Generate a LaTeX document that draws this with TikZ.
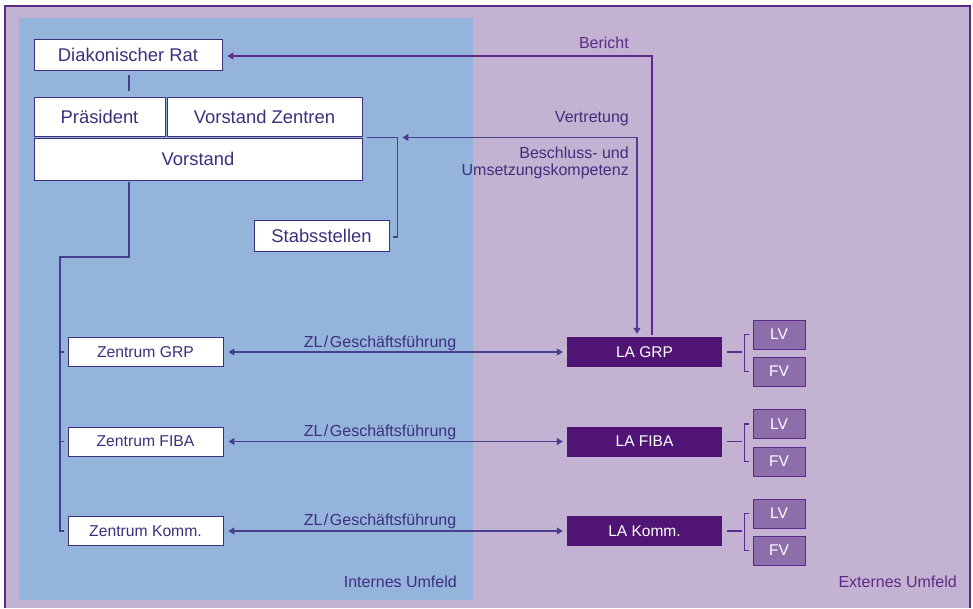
\documentclass[tikz,border=0pt]{standalone}
\usepackage{fontspec}
\setmainfont{Liberation Sans}
\usetikzlibrary{arrows.meta,calc}
\definecolor{lav}{HTML}{C4B2D2}
\definecolor{bluebg}{HTML}{95B4DC}
\definecolor{frame}{HTML}{5A2A86}
\definecolor{txt}{HTML}{3D2F7E}
\definecolor{lineblue}{HTML}{483F8E}
\definecolor{linepurp}{HTML}{5E2A8A}
\definecolor{lafill}{HTML}{501574}
\definecolor{lvfill}{HTML}{8D6DAA}
\definecolor{lvline}{HTML}{5C2A88}
\begin{document}
\begin{tikzpicture}[x=1pt,y=-1pt,
  bigbox/.style={draw=txt, fill=white, line width=0.9pt, text=txt, inner sep=0pt, font=\fontsize{18.4}{20}\selectfont},
  zbox/.style={draw=txt, fill=white, line width=0.9pt, text=txt, inner sep=0pt, minimum width=155pt, minimum height=29pt, font=\fontsize{15.7}{18}\selectfont},
  labox/.style={fill=lafill, draw=none, text=white, inner sep=0pt, minimum width=155pt, minimum height=30pt, font=\fontsize{15.5}{18}\selectfont},
  vbox/.style={fill=lvfill, draw=lvline, line width=0.9pt, text=white, inner sep=0pt, minimum width=52pt, minimum height=29pt, font=\fontsize{15.5}{18}\selectfont},
  conn/.style={draw=lineblue, line width=1.1pt},
  tip/.style={-{Triangle[length=6pt,width=7pt]}},
  tips/.style={{Triangle[length=6pt,width=7pt]}-{Triangle[length=6pt,width=7pt]}},
  lbl/.style={text=txt, inner sep=0pt, font=\fontsize{16}{17}\selectfont}
]
\useasboundingbox (0,0) rectangle (973,608);
% backgrounds
\fill[lav] (5,6) rectangle (970,608);
\fill[bluebg] (19,18) rectangle (473,600);
\draw[frame, line width=2pt] (5,608) -- (5,6) -- (970,6) -- (970,608);

% top boxes
\node[bigbox, minimum width=188pt, minimum height=31pt] (diak) at (128,54.5) {Diakonischer Rat};
\node[bigbox, minimum width=131pt, minimum height=39pt] (praes) at (99.5,116.5) {Präsident};
\node[bigbox, minimum width=195pt, minimum height=39pt] (vz) at (264.5,116.5) {Vorstand Zentren};
\node[bigbox, minimum width=328pt, minimum height=42pt] (vor) at (198,159) {Vorstand};
\node[bigbox, minimum width=135pt, minimum height=31pt] (stab) at (321.5,235.5) {Stabsstellen};

% centres
\node[zbox] (zgrp) at (145.5,352) {Zentrum GRP};
\node[zbox] (zfiba) at (145.5,441.5) {Zentrum FIBA};
\node[zbox] (zkomm) at (145.5,531) {Zentrum Komm.};

% LA boxes
\node[labox] (lagrp) at (644.5,352) {LA GRP};
\node[labox] (lafiba) at (644.5,441.5) {LA FIBA};
\node[labox] (lakomm) at (644.5,531) {LA Komm.};

% LV / FV
\node[vbox] (lv1) at (779,334.5) {LV};
\node[vbox] (fv1) at (779,371.5) {FV};
\node[vbox] (lv2) at (779,424) {LV};
\node[vbox] (fv2) at (779,461.5) {FV};
\node[vbox] (lv3) at (779,513.5) {LV};
\node[vbox] (fv3) at (779,550.5) {FV};

% Diakonischer Rat -- Vorstand
\draw[conn] ([xshift=1pt]diak.south) ++(0,5) -- ++(0,16);

% Vorstand -> Zentren tree
\coordinate (tr) at (60,257);
\draw[conn] ([xshift=-69pt]vor.south) ++(0,2) |- (tr) |- ([xshift=-4pt]zkomm.west);
\draw[conn] ([xshift=-8pt]zgrp.west) -- ++(4,0);
\draw[conn] ([xshift=-8pt]zfiba.west) -- ++(4,0);

% Stabsstellen bracket
\coordinate (bt) at ($(vz.south east)+(5,1)$);
\draw[conn] (bt) -- ++(30,0) |- ([xshift=4pt,yshift=-1.5pt]stab.east);

% Vertretung
\draw[conn, tips] ($(bt)+(35,0)$) -| ([xshift=-7.5pt,yshift=3pt]lagrp.north);

% Bericht
\draw[draw=linepurp, line width=1.1pt, tip] ([xshift=7.5pt,yshift=2pt]lagrp.north) |- ([xshift=5pt,yshift=-1.5pt]diak.east);

% ZL arrows
\foreach \z/\l in {zgrp/lagrp, zfiba/lafiba, zkomm/lakomm}{
  \draw[conn, tips] ([xshift=5pt]\z.east) -- ([xshift=-4pt]\l.west);
}
\node[lbl] (zl1) at (380,343) {ZL\kern1.5pt/\kern1.5ptGeschäftsführung};
\node[lbl] (zl2) at (380,432.5) {ZL\kern1.5pt/\kern1.5ptGeschäftsführung};
\node[lbl] (zl3) at (380,521.5) {ZL\kern1.5pt/\kern1.5ptGeschäftsführung};

% LA -> LV/FV brackets
\foreach \l/\a/\b in {lagrp/lv1/fv1, lafiba/lv2/fv2, lakomm/lv3/fv3}{
  \draw[draw=linepurp, line width=1.1pt] ([xshift=5pt]\l.east) -- ++(15,0);
  \draw[draw=linepurp, line width=1.1pt] ([xshift=-4pt]\a.west) -- ++(-4,0) |- ([xshift=-4pt]\b.west);
}

% labels
\node[lbl, text=linepurp, anchor=east] (ber) at (629,43) {Bericht};
\node[lbl, anchor=east] (vert) at (629,119) {Vertretung};
\node[lbl, anchor=north east, align=right, font=\fontsize{16}{17}\selectfont] (besch) at (629,147) {Beschluss- und\\Umsetzungskompetenz};
\node[lbl, anchor=east] (intern) at (457,582) {Internes Umfeld};
\node[lbl, text=linepurp, anchor=east] (extern) at (957,582) {Externes Umfeld};
\end{tikzpicture}
\end{document}
